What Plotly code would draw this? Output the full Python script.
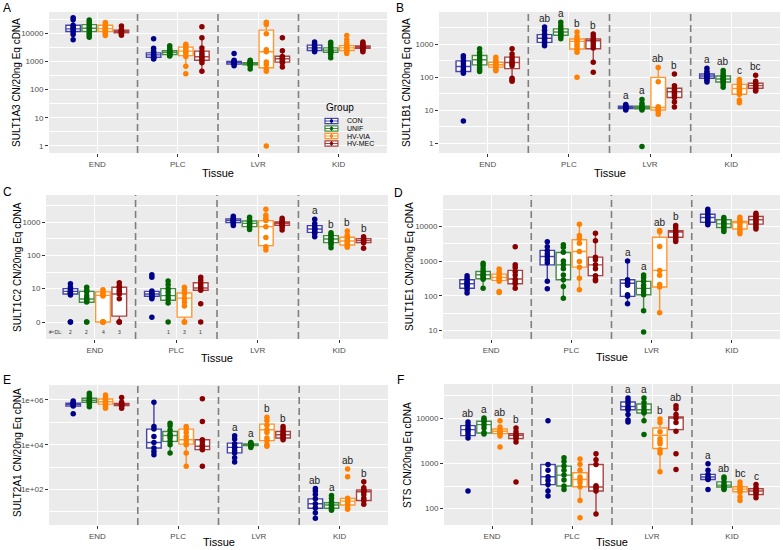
import math
import plotly.graph_objects as go

W, H = 783, 550
TISSUES = ["END", "PLC", "LVR", "KID"]
GROUPS = ["CON", "UNIF", "HV-VIA", "HV-MEC"]
PT_COLORS = ["#00008B", "#006400", "#FF8000", "#8B0000"]
BOX_COLORS = ["rgba(0,0,139,0.72)", "rgba(0,100,0,0.72)", "rgba(255,128,0,0.8)", "rgba(139,0,0,0.72)"]

# ---------------- Panel A : SULT1A3 ----------------
A_pts = [
    [[35000, 30000, 19000, 17000, 15000, 13000, 11000, 9000, 5800],
     [29000, 25000, 21000, 18000, 16000, 14000, 12000, 10000, 8500, 7200],
     [24000, 20000, 18000, 16000, 14500, 13000, 12000, 10500, 9500, 8300],
     [18000, 13500, 12500, 11500, 11000, 10500, 9500, 8500]],
    [[6300, 2900, 2300, 2000, 1800, 1600, 1500, 1400, 1300, 1200],
     [3600, 3000, 2600, 2300, 2100, 2000, 1900, 1750, 1600, 1550],
     [4000, 3600, 3000, 2500, 2200, 1900, 1500, 670, 360],
     [17000, 6800, 3000, 2200, 1800, 1500, 1300, 1100, 900, 450]],
    [[1900, 1100, 1000, 950, 900, 880, 850, 800, 700],
     [1100, 1000, 920, 870, 820, 780, 740, 700, 540],
     [24500, 20400, 9500, 2600, 2200, 940, 770, 560, 450, 1],
     [6800, 2400, 1500, 1350, 1250, 1150, 1000, 900, 630]],
    [[4900, 4200, 3700, 3300, 3000, 2800, 2600, 2400, 2200],
     [4800, 4000, 3300, 2800, 2500, 2300, 2100, 1800, 1330],
     [8300, 5800, 4500, 3700, 3200, 2900, 2600, 2300, 1900],
     [4900, 4300, 3800, 3500, 3200, 3000, 2800, 2500, 2200]],
]
A_q1 = [[11400, 11500, 11500, 10200], [1400, 1750, 1600, 1100], [800, 750, 590, 940], [2430, 2100, 2430, 2900]]
A_med = [[14200, 15000, 14500, 11500], [1700, 2100, 2300, 1450], [900, 820, 2200, 1230], [3000, 2500, 3000, 3200]]
A_q3 = [[19000, 20000, 19000, 12800], [2000, 2400, 3200, 2300], [1000, 900, 12800, 1520], [3750, 3000, 3600, 3500]]
A_letters = None

# ---------------- Panel B : SULT1B1 ----------------
B_pts = [
    [[440, 380, 300, 250, 200, 170, 150, 130, 4.7],
     [720, 550, 450, 380, 330, 280, 230, 190, 165, 148],
     [400, 330, 290, 260, 235, 215, 190, 170, 155],
     [720, 500, 400, 330, 280, 250, 220, 92, 82, 74]],
    [[3300, 2600, 2000, 1700, 1500, 1350, 1200, 1050, 890],
     [4600, 3600, 3000, 2600, 2300, 2100, 1900, 1700, 1450],
     [2320, 1700, 1400, 1200, 1000, 850, 700, 560, 98],
     [2000, 1700, 1400, 1260, 1100, 900, 760, 280, 140]],
    [[14.8, 13.5, 12.8, 12.2, 11.8, 11.3, 10.8, 10],
     [21, 16, 13.5, 12.5, 12, 11.5, 11, 10, 0.79],
     [195, 72, 12.5, 11.5, 10.5, 9, 7.5],
     [124, 55, 45, 40, 36, 32, 28, 24, 17.7, 12.3]],
    [[185, 150, 130, 120, 110, 105, 100, 90, 80, 71],
     [158, 130, 110, 100, 90, 85, 78, 70, 60, 49],
     [85, 70, 60, 52, 45, 40, 35, 30, 20, 16.6],
     [113, 75, 65, 58, 55, 50, 46, 40, 38]],
]
B_q1 = [[147, 234, 200, 180], [1120, 1840, 704, 720], [11.2, 11, 10, 24], [92, 71, 30, 46]]
B_med = [[208, 333, 235, 275], [1500, 2320, 1200, 1260], [12, 12, 12, 36], [108, 87, 45, 55]]
B_q3 = [[310, 450, 280, 400], [1930, 2870, 1420, 1420], [13, 13, 98, 45.6], [124, 108, 60, 65]]
B_letters = [["", "", "", ""], ["ab", "a", "b", "b"], ["a", "a", "ab", "b"], ["a", "ab", "c", "bc"]]

# ---------------- Panel C : SULT1C2 (0 = below detection limit) ----------------
C_pts = [
    [[14, 11, 9.5, 8.5, 8, 7.5, 7, 6.5, 0, 0],
     [11, 9, 8, 6, 5, 4.5, 4, 0, 0],
     [9.3, 8, 7, 6.3, 6, 0, 0, 0, 0],
     [15, 12, 11, 9, 8, 6.9, 5, 0, 0, 0]],
    [[26, 22, 8.5, 7.5, 7, 6.5, 6, 5.5, 5, 1.4],
     [17, 13, 10, 8, 6.2, 5, 3.7, 0],
     [11, 9, 7, 5.2, 4, 3, 0, 0, 0],
     [22, 18, 14, 12, 10.5, 9, 3.5, 0]],
    [[1500, 1300, 1200, 1100, 1050, 1000, 900, 780],
     [1380, 1150, 1000, 920, 880, 800, 700, 600],
     [2400, 1600, 1300, 1100, 725, 340, 182, 145],
     [1290, 1100, 1000, 950, 910, 850, 800, 700, 575]],
    [[1200, 900, 750, 650, 600, 550, 500, 450, 364],
     [480, 420, 380, 330, 300, 270, 240, 210, 170],
     [540, 400, 340, 300, 270, 240, 210, 190, 175],
     [364, 320, 290, 270, 250, 240, 162]],
]
C_q1 = [[6.9, 3.9, 0, 1.5], [5.9, 4.5, 1.4, 9], [955, 725, 196, 800], [490, 240, 205, 240]]
C_med = [[8.3, 4.9, 6.3, 6.9], [6.9, 6.2, 5.2, 10.5], [1100, 910, 725, 910], [617, 310, 270, 276]]
C_q3 = [[10, 8.3, 8, 11], [8.3, 10, 7.4, 15], [1230, 1070, 1100, 1000], [777, 390, 347, 316]]
C_letters = [["", "", "", ""], ["", "", "", ""], ["", "", "", ""], ["a", "b", "b", "b"]]

# ---------------- Panel D : SULT1E1 ----------------
D_pts = [
    [[380, 320, 270, 240, 220, 200, 180, 150, 120],
     [870, 750, 600, 500, 430, 400, 370, 330, 300, 165],
     [590, 480, 400, 350, 320, 290, 260, 133, 125],
     [2600, 790, 650, 500, 400, 300, 250, 222, 165]],
    [[3600, 2600, 2000, 1600, 1360, 1100, 900, 260, 160],
     [2960, 2500, 1800, 1000, 780, 600, 400, 290, 185, 85],
     [11700, 5500, 4500, 3300, 1900, 980, 670, 320, 150],
     [6400, 3860, 1300, 1100, 780, 600, 380, 300, 270]],
    [[1000, 290, 250, 230, 200, 107, 96, 59],
     [400, 330, 260, 200, 163, 130, 107, 37, 8.9],
     [7640, 7000, 2640, 540, 390, 210, 178, 32],
     [10700, 9000, 7500, 6860, 6000, 5500, 4900, 4200, 3700]],
    [[31600, 27000, 23000, 20000, 18200, 16000, 14000, 12500, 11200],
     [18200, 16000, 14000, 12500, 11900, 10500, 9350, 8000, 7200],
     [18600, 16000, 14000, 13000, 12000, 10000, 8500, 7000, 6150],
     [24100, 21000, 19000, 17000, 15600, 14000, 12500, 11000, 9500, 8400]],
]
D_q1 = [[165, 310, 277, 222], [780, 290, 670, 380], [96, 107, 178, 4900], [13300, 9350, 8500, 11700]]
D_med = [[222, 405, 340, 303], [1360, 780, 1900, 780], [230, 163, 540, 6860], [18200, 11900, 13000, 15600]]
D_q3 = [[290, 500, 420, 540], [2040, 1780, 4140, 1300], [290, 260, 4900, 7500], [22700, 15600, 13900, 19400]]
D_letters = [["", "", "", ""], ["", "", "", ""], ["a", "a", "ab", "b"], ["", "", "", ""]]

# ---------------- Panel E : SULT2A1 ----------------
E_pts = [
    [[900000, 780000, 710000, 640000, 600000, 540000, 240000],
     [2.0e6, 1.6e6, 1.3e6, 1.1e6, 970000, 880000, 800000, 650000, 500000],
     [1.67e6, 1.3e6, 1.1e6, 950000, 840000, 750000, 650000, 520000, 426000],
     [1.3e6, 800000, 700000, 640000, 580000, 520000, 430000]],
    [[790000, 65000, 50000, 23500, 12600, 7100, 5000, 3600],
     [91000, 70000, 45000, 30000, 26000, 20000, 14100, 10000, 4300],
     [65000, 50000, 35000, 23500, 16600, 12000, 10000, 4300, 1100],
     [1.15e6, 109000, 16600, 14000, 10000, 8500, 7000, 6000, 1100]],
    [[25000, 18000, 11000, 8000, 7600, 5500, 4300, 2600, 1700],
     [12600, 11500, 10500, 10000, 9500, 9000, 8500, 7600],
     [170000, 120000, 75000, 46400, 35000, 20000, 15200, 10000, 8500],
     [65000, 50000, 40000, 32000, 28000, 24000, 20000, 16600]],
    [[110, 85, 60, 38, 23, 15, 9, 5.1],
     [53, 40, 28, 22, 20, 17, 15, 13, 11.7],
     [830, 365, 40, 35, 30, 25, 20, 15, 13],
     [220, 120, 94, 85, 79, 60, 40, 32, 21.5]],
]
E_q1 = [[540000, 790000, 650000, 560000], [7100, 14100, 10600, 6000], [4300, 9200, 15200, 20000], [14.5, 14.5, 20, 32]]
E_med = [[640000, 970000, 840000, 640000], [12600, 26000, 16600, 8500], [7600, 10000, 46400, 28000], [23, 20, 30, 79]]
E_q3 = [[710000, 1.19e6, 1.1e6, 700000], [50000, 39000, 50000, 16600], [11800, 10800, 83000, 39000], [38, 25.6, 40, 94]]
E_letters = [["", "", "", ""], ["", "", "", ""], ["a", "a", "b", "b"], ["ab", "a", "ab", "b"]]

# ---------------- Panel F : STS ----------------
F_pts = [
    [[8170, 7000, 6000, 5540, 5000, 4300, 3640, 245],
     [10000, 9200, 8300, 7140, 6000, 4800, 4450],
     [8740, 6300, 5500, 5100, 4800, 4500, 4000, 2300],
     [6030, 5000, 4300, 4160, 3800, 3520, 2960, 390]],
    [[8740, 940, 700, 505, 420, 340, 245, 190],
     [1320, 1100, 870, 700, 550, 430, 316, 265],
     [1250, 950, 700, 500, 440, 380, 305, 152, 63],
     [1620, 1200, 940, 320, 300, 280, 245, 76]],
    [[27500, 24000, 21000, 18000, 16500, 15200, 12000, 9000, 8170],
     [27500, 22000, 18000, 15200, 13500, 12900, 8740, 4300],
     [9500, 8000, 5000, 3500, 3000, 2700, 2000, 1700, 650],
     [18700, 16000, 12000, 10000, 8000, 5100, 1620, 730]],
    [[980, 700, 570, 500, 460, 440, 265],
     [500, 450, 380, 330, 310, 280, 265],
     [390, 330, 290, 270, 250, 230, 180, 152],
     [340, 290, 260, 245, 230, 205, 175]],
]
F_q1 = [[4090, 4680, 4530, 3520], [340, 316, 305, 245], [15200, 12900, 2120, 5540], [440, 300, 237, 205]]
F_med = [[5540, 7140, 5100, 4160], [505, 550, 440, 300], [18000, 15200, 4160, 10000], [500, 330, 270, 245]]
F_q3 = [[6780, 8450, 5730, 4530], [940, 870, 620, 940], [22500, 20300, 6030, 10500], [570, 390, 305, 275]]
F_letters = [["ab", "a", "ab", "b"], ["", "", "", ""], ["a", "a", "b", "ab"], ["a", "ab", "bc", "c"]]

# ---------------- panel layout (pixels) ----------------
panels = [
    dict(tag="A", gene="SULT1A3", pts=A_pts, q1=A_q1, med=A_med, q3=A_q3, let=A_letters,
         px=(49, 387, 12, 153), yr=[-0.25, 4.75], tv=[1, 10, 100, 1000, 10000], tt=None,
         minor=[10 ** (k + 0.5) for k in range(0, 5)], tagpos=(7, 8), ytpos=(17, 83), xtpos=173),
    dict(tag="B", gene="SULT1B1", pts=B_pts, q1=B_q1, med=B_med, q3=B_q3, let=B_letters,
         px=(439, 780, 12, 153), yr=[-0.30, 3.97], tv=[1, 10, 100, 1000], tt=None,
         minor=[10 ** (k + 0.5) for k in range(0, 4)], tagpos=(400, 8), ytpos=(407, 83), xtpos=173),
    dict(tag="C", gene="SULT1C2", pts=C_pts, q1=C_q1, med=C_med, q3=C_q3, let=C_letters,
         px=(46, 388, 195, 339), yr=[-0.51, 3.81], tv=[1, 10, 100, 1000], tt=["0", "10", "100", "1000"],
         minor=[10 ** (k + 0.5) for k in range(0, 4)], tagpos=(7, 192), ytpos=(17, 267), xtpos=358),
    dict(tag="D", gene="SULT1E1", pts=D_pts, q1=D_q1, med=D_med, q3=D_q3, let=D_letters,
         px=(443, 780, 195, 339), yr=[0.75, 4.91], tv=[10, 100, 1000, 10000], tt=None,
         minor=[10 ** (k + 0.5) for k in range(1, 5)], tagpos=(398, 193), ytpos=(409, 267), xtpos=357),
    dict(tag="E", gene="SULT2A1", pts=E_pts, q1=E_q1, med=E_med, q3=E_q3, let=E_letters,
         px=(49, 388, 385, 525), yr=[0.41, 6.67], tv=[1e2, 1e4, 1e6], tt=["1e+02", "1e+04", "1e+06"],
         minor=[1e1, 1e3, 1e5], tagpos=(7, 380), ytpos=(17, 453), xtpos=542),
    dict(tag="F", gene="STS", pts=F_pts, q1=F_q1, med=F_med, q3=F_q3, let=F_letters,
         px=(444, 780, 384, 525), yr=[1.64, 4.75], tv=[100, 1000, 10000], tt=None,
         minor=[10 ** (k + 0.5) for k in range(2, 5)], tagpos=(400, 380), ytpos=(407, 455), xtpos=542),
]

OFFS = [-0.3, -0.1, 0.1, 0.3]
BOXW = 0.18
FONT = "Liberation Sans, Arial, sans-serif"


def disp(v):
    return v if v > 0 else 1.0


def pann(x, y, text, size, **kw):
    d = dict(x=x / W, y=1 - y / H, xref="paper", yref="paper", text=text, showarrow=False,
             xanchor="center", yanchor="middle", font=dict(size=size, color="black", family=FONT))
    d.update(kw)
    return d


fig = go.Figure()
annotations = []
shapes = []
layout = {}

for k, P in enumerate(panels):
    sfx = "" if k == 0 else str(k + 1)
    xa, ya = "x" + sfx, "y" + sfx
    for ti in range(4):
        for gi in range(4):
            pts = [disp(v) for v in P["pts"][ti][gi]]
            q1, med, q3 = disp(P["q1"][ti][gi]), disp(P["med"][ti][gi]), disp(P["q3"][ti][gi])
            l1, l3 = math.log10(q1), math.log10(q3)
            iqr = l3 - l1
            inside = [p for p in pts if l1 - 1.5 * iqr - 1e-9 <= math.log10(p) <= l3 + 1.5 * iqr + 1e-9]
            lf = min(inside + [q1])
            uf = max(inside + [q3])
            xpos = ti + 1 + OFFS[gi]
            fig.add_trace(go.Box(
                x=[xpos], q1=[q1], median=[med], q3=[q3], lowerfence=[lf], upperfence=[uf],
                width=BOXW, whiskerwidth=0, fillcolor="white",
                line=dict(color=BOX_COLORS[gi], width=1.4), boxpoints=False,
                xaxis=xa, yaxis=ya, showlegend=False, hoverinfo="skip"))
            fig.add_trace(go.Scatter(
                x=[xpos] * len(pts), y=pts, mode="markers",
                marker=dict(color=PT_COLORS[gi], size=5.5, line=dict(width=0)),
                xaxis=xa, yaxis=ya, showlegend=False, hoverinfo="skip"))
            if P["let"] is not None and P["let"][ti][gi]:
                annotations.append(dict(
                    x=xpos, y=math.log10(max(pts)), xref=xa, yref=ya, text=P["let"][ti][gi],
                    showarrow=False, xanchor="center", yanchor="bottom", yshift=1,
                    font=dict(size=10, color="#222222", family=FONT)))
            if P["tag"] == "C" and ti < 2:
                n0 = sum(1 for v in P["pts"][ti][gi] if v == 0)
                if n0 > 0:
                    annotations.append(dict(
                        x=xpos, y=-0.31, xref=xa, yref=ya, text=str(n0), showarrow=False,
                        xanchor="center", yanchor="middle",
                        font=dict(size=5, color="#333333", family=FONT)))
    if P["tag"] == "C":
        annotations.append(dict(x=0.52, y=-0.31, xref=xa, yref=ya, text="#<DL:", showarrow=False,
                                xanchor="center", yanchor="middle",
                                font=dict(size=5, color="#333333", family=FONT)))

    x0, x1, y0, y1 = P["px"]
    layout["xaxis" + sfx] = dict(
        domain=[x0 / W, x1 / W], anchor=ya, range=[0.4, 4.6], tickvals=[1, 2, 3, 4], ticktext=TISSUES,
        showgrid=True, gridcolor="white", gridwidth=1.1, zeroline=False, showline=False,
        ticks="outside", ticklen=3, tickwidth=1, tickcolor="#333333", automargin=False,
        tickfont=dict(size=8, color="#4D4D4D", family=FONT))
    layout["yaxis" + sfx] = dict(
        domain=[1 - y1 / H, 1 - y0 / H], anchor=xa, type="log", range=P["yr"],
        tickvals=P["tv"], ticktext=P["tt"] if P["tt"] else [f"{int(v)}" for v in P["tv"]],
        showgrid=True, gridcolor="white", gridwidth=1.1, zeroline=False, showline=False,
        ticks="outside", ticklen=3, tickwidth=1, tickcolor="#333333", automargin=False,
        tickfont=dict(size=8, color="#4D4D4D", family=FONT),
        minor=dict(tickmode="array", tickvals=P["minor"], showgrid=True, gridcolor="white",
                   gridwidth=0.5, ticks=""))
    for xs in (1.5, 2.5, 3.5):
        shapes.append(dict(type="line", xref=xa, yref=ya + " domain", x0=xs, x1=xs, y0=0, y1=1,
                           line=dict(color="#7F7F7F", width=1.6, dash="7px,4px")))
    tx, ty = P["tagpos"]
    annotations.append(pann(tx, ty, P["tag"], 12))
    yx, yy = P["ytpos"]
    annotations.append(pann(yx, yy, P["gene"] + " CN/20ng Eq cDNA", 10, textangle=-90))
    annotations.append(pann((x0 + x1) / 2, P["xtpos"], "Tissue", 11))

# ---------------- manual legend inside panel A ----------------
annotations.append(pann(324, 108, "Group", 10, xanchor="left"))
for gi, g in enumerate(GROUPS):
    cy = 121.0 + gi * 7.5
    shapes.append(dict(type="rect", xref="paper", yref="paper", x0=325 / W, x1=338 / W,
                       y0=1 - (cy + 2.6) / H, y1=1 - (cy - 2.6) / H,
                       line=dict(color=BOX_COLORS[gi], width=1.2), fillcolor="white", layer="above"))
    shapes.append(dict(type="line", xref="paper", yref="paper", x0=331.5 / W, x1=331.5 / W,
                       y0=1 - (cy + 2.6) / H, y1=1 - (cy - 2.6) / H,
                       line=dict(color=BOX_COLORS[gi], width=1.2)))
    shapes.append(dict(type="line", xref="paper", yref="paper", x0=325 / W, x1=338 / W,
                       y0=1 - cy / H, y1=1 - cy / H, line=dict(color=BOX_COLORS[gi], width=1)))
    shapes.append(dict(type="circle", xref="paper", yref="paper", x0=329.8 / W, x1=333.2 / W,
                       y0=1 - (cy + 1.7) / H, y1=1 - (cy - 1.7) / H,
                       line=dict(width=0), fillcolor=PT_COLORS[gi]))
    annotations.append(pann(345, cy, g, 7, xanchor="left"))

fig.update_layout(
    width=W, height=H, margin=dict(l=0, r=0, t=0, b=0),
    paper_bgcolor="white", plot_bgcolor="#EBEBEB",
    font=dict(family=FONT), showlegend=False,
    annotations=annotations, shapes=shapes, **layout)

fig.write_html("out.html", config={"displayModeBar": False},
               post_script="document.body.style.margin='0';document.body.style.padding='0';")
